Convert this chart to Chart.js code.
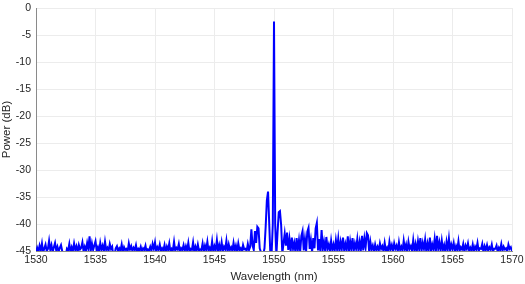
<!DOCTYPE html>
<html>
<head>
<meta charset="utf-8">
<script src="https://cdn.jsdelivr.net/npm/chart.js@4/dist/chart.umd.min.js"></script>
<style>
  html, body { margin: 0; padding: 0; background: #fff; }
  #wrap { width: 525px; height: 284px; }
</style>
</head>
<body>
<div id="wrap"><canvas id="spectrum"></canvas></div>
<script>
// Espectro óptico: grade de comprimento de onda (nm) e potência medida (dB)
const wlStart = 1530;
const wlStep = 0.1;

// Potência em dB, uma linha por nm (1530.0 ... 1569.9), último ponto 1570.0
const powerDb = [
  -45.2,-44.4,-45.1,-44.0,-44.9,-43.6,-45.3,-44.5,-43.8,-45.0,
  -44.6,-43.1,-44.8,-43.9,-45.2,-44.3,-43.5,-44.9,-44.2,-45.1,
  -44.4,-43.9,-45.0,-46.2,-46.5,-45.9,-44.6,-44.9,-43.7,-45.2,
  -44.3,-45.0,-43.6,-44.8,-44.1,-45.2,-43.9,-44.7,-44.4,-43.4,
  -45.1,-44.2,-44.9,-43.5,-44.6,-42.3,-45.0,-43.6,-44.8,-44.0,
  -43.2,-44.9,-44.3,-45.2,-43.5,-44.7,-44.0,-45.1,-43.3,-44.8,
  -44.4,-45.0,-43.7,-44.6,-44.2,-46.0,-45.8,-44.5,-44.1,-45.0,
  -44.5,-44.9,-43.8,-45.2,-44.3,-44.8,-44.6,-45.1,-43.6,-44.7,
  -44.1,-45.0,-44.4,-44.8,-43.9,-45.2,-44.6,-44.9,-44.2,-45.1,
  -44.5,-44.8,-44.0,-45.2,-44.7,-44.9,-44.2,-45.0,-43.7,-44.6,
  -43.4,-45.1,-44.3,-44.8,-43.8,-45.0,-44.5,-44.9,-43.9,-45.2,
  -44.2,-44.8,-43.6,-45.1,-44.6,-44.9,-43.3,-45.0,-44.4,-44.7,
  -43.7,-45.2,-44.5,-44.8,-43.9,-45.0,-44.1,-44.9,-43.5,-45.1,
  -44.6,-44.8,-43.4,-45.2,-44.2,-44.9,-43.8,-45.0,-44.7,-44.8,
  -43.6,-45.1,-44.0,-44.8,-43.3,-45.0,-44.4,-44.9,-43.2,-45.2,
  -44.1,-44.8,-43.0,-45.1,-43.9,-44.9,-43.4,-45.0,-44.2,-44.7,
  -43.1,-45.2,-43.8,-44.8,-44.3,-45.0,-43.5,-44.9,-44.0,-45.1,
  -43.6,-44.8,-44.5,-45.2,-43.9,-44.7,-44.6,-45.0,-43.7,-44.8,
  -44.2,-41.0,-44.0,-44.8,-41.3,-43.5,-40.5,-40.8,-44.5,-45.2,
  -45.5,-45.6,-44.5,-40.5,-35.6,-34.0,-40.0,-46.0,-45.5,-40.0,
  -2.5,-40.0,-45.8,-41.5,-37.8,-37.6,-40.2,-45.5,-43.6,-41.8,
  -44.0,-41.6,-44.8,-42.8,-45.0,-42.5,-44.6,-43.5,-45.2,-42.6,
  -44.8,-43.0,-45.1,-42.2,-41.3,-44.9,-42.8,-45.0,-41.4,-40.7,
  -44.6,-43.0,-45.2,-42.6,-44.5,-40.8,-39.8,-44.9,-42.8,-45.1,
  -41.1,-44.7,-43.3,-45.0,-42.4,-44.6,-43.8,-45.1,-43.1,-44.8,
  -43.8,-45.0,-43.0,-44.7,-42.7,-45.1,-43.3,-44.6,-42.5,-45.0,
  -43.7,-44.8,-42.3,-45.1,-43.2,-44.7,-42.6,-45.0,-43.6,-44.6,
  -42.8,-45.0,-43.3,-44.8,-42.2,-44.9,-42.7,-44.3,-41.7,-42.1,
  -45.2,-43.3,-44.7,-44.0,-45.1,-43.8,-44.8,-44.2,-45.0,-43.6,
  -44.6,-44.1,-45.1,-43.5,-44.9,-44.4,-45.2,-43.3,-44.7,-43.9,
  -45.0,-43.6,-44.6,-44.0,-45.1,-43.4,-44.8,-44.2,-45.0,-43.1,
  -44.7,-43.8,-45.2,-43.3,-44.6,-44.1,-45.0,-43.0,-44.9,-43.7,
  -45.1,-43.2,-44.7,-42.6,-45.0,-43.5,-44.6,-42.9,-45.2,-43.6,
  -44.8,-42.5,-45.0,-43.8,-44.7,-42.8,-45.1,-42.2,-44.6,-43.4,
  -45.0,-43.1,-44.8,-43.9,-45.2,-43.3,-44.7,-42.7,-45.0,-43.8,
  -44.6,-43.5,-45.1,-44.1,-44.8,-43.2,-45.0,-44.3,-44.7,-43.7,
  -45.2,-44.0,-44.6,-43.6,-45.0,-44.4,-44.9,-43.8,-45.1,-44.2,
  -44.7,-43.5,-45.0,-44.5,-44.6,-43.7,-45.2,-44.1,-44.8,-43.9,
  -45.0,-44.3,-44.7,-43.8,-45.1,-44.6,-44.6,-44.0,-45.2,-44.4,
  -44.8,-43.7,-45.0,-44.2,-44.7,-44.5,-45.1,-43.8,-44.6,-44.3,
  -45.0
];

// Ticks dos eixos
const xTicks = [1530, 1535, 1540, 1545, 1550, 1555, 1560, 1565, 1570];
const yTicks = [0, -5, -10, -15, -20, -25, -30, -35, -40, -45];

document.addEventListener('DOMContentLoaded', () => {
    drawSpectrum();
});

function drawSpectrum() {
    const points = powerDb.map((p, i) => ({
        x: +(wlStart + i * wlStep).toFixed(2),
        y: p
    }));

    const fontFamily = 'Liberation Sans, Arial, sans-serif';
    const tickFont = { family: fontFamily, size: 10.5 };
    const gridColor = '#ececec';
    const textColor = '#262626';

    new Chart(document.getElementById('spectrum'), {
        type: 'line',
        data: {
            datasets: [{
                data: points,
                borderColor: '#0000ff',
                borderWidth: 2,
                pointRadius: 0,
                tension: 0,
                fill: false
            }]
        },
        options: {
            responsive: true,
            maintainAspectRatio: false,
            animation: false,
            layout: { padding: { top: 0, right: 0, left: 0, bottom: 0 } },
            plugins: { legend: { display: false }, tooltip: { enabled: false } },
            scales: {
                x: {
                    type: 'linear',
                    min: 1530,
                    max: 1570,
                    afterBuildTicks: axis => { axis.ticks = xTicks.map(v => ({ value: v })); },
                    afterFit: axis => {
                        axis.height = 33;
                        axis.paddingRight = 13;
                    },
                    grid: { color: gridColor, drawTicks: false },
                    border: { color: '#8a8a8a' },
                    ticks: {
                        color: textColor,
                        font: tickFont,
                        padding: 3,
                        maxRotation: 0,
                        callback: v => String(v)
                    },
                    title: {
                        display: true,
                        text: 'Wavelength (nm)',
                        color: textColor,
                        font: { family: fontFamily, size: 11.5 },
                        padding: { top: 0, bottom: 0 }
                    }
                },
                y: {
                    min: -45,
                    max: 0,
                    afterBuildTicks: axis => { axis.ticks = yTicks.map(v => ({ value: v })); },
                    afterFit: axis => {
                        axis.width = 36;
                        axis.paddingTop = 8;
                    },
                    grid: { color: gridColor, drawTicks: false },
                    border: { color: '#8a8a8a' },
                    ticks: { color: textColor, font: tickFont, padding: 5 },
                    title: {
                        display: true,
                        text: 'Power (dB)',
                        color: textColor,
                        font: { family: fontFamily, size: 11.5 },
                        padding: { top: 0, bottom: 0 }
                    }
                }
            }
        }
    });
}
</script>
</body>
</html>
